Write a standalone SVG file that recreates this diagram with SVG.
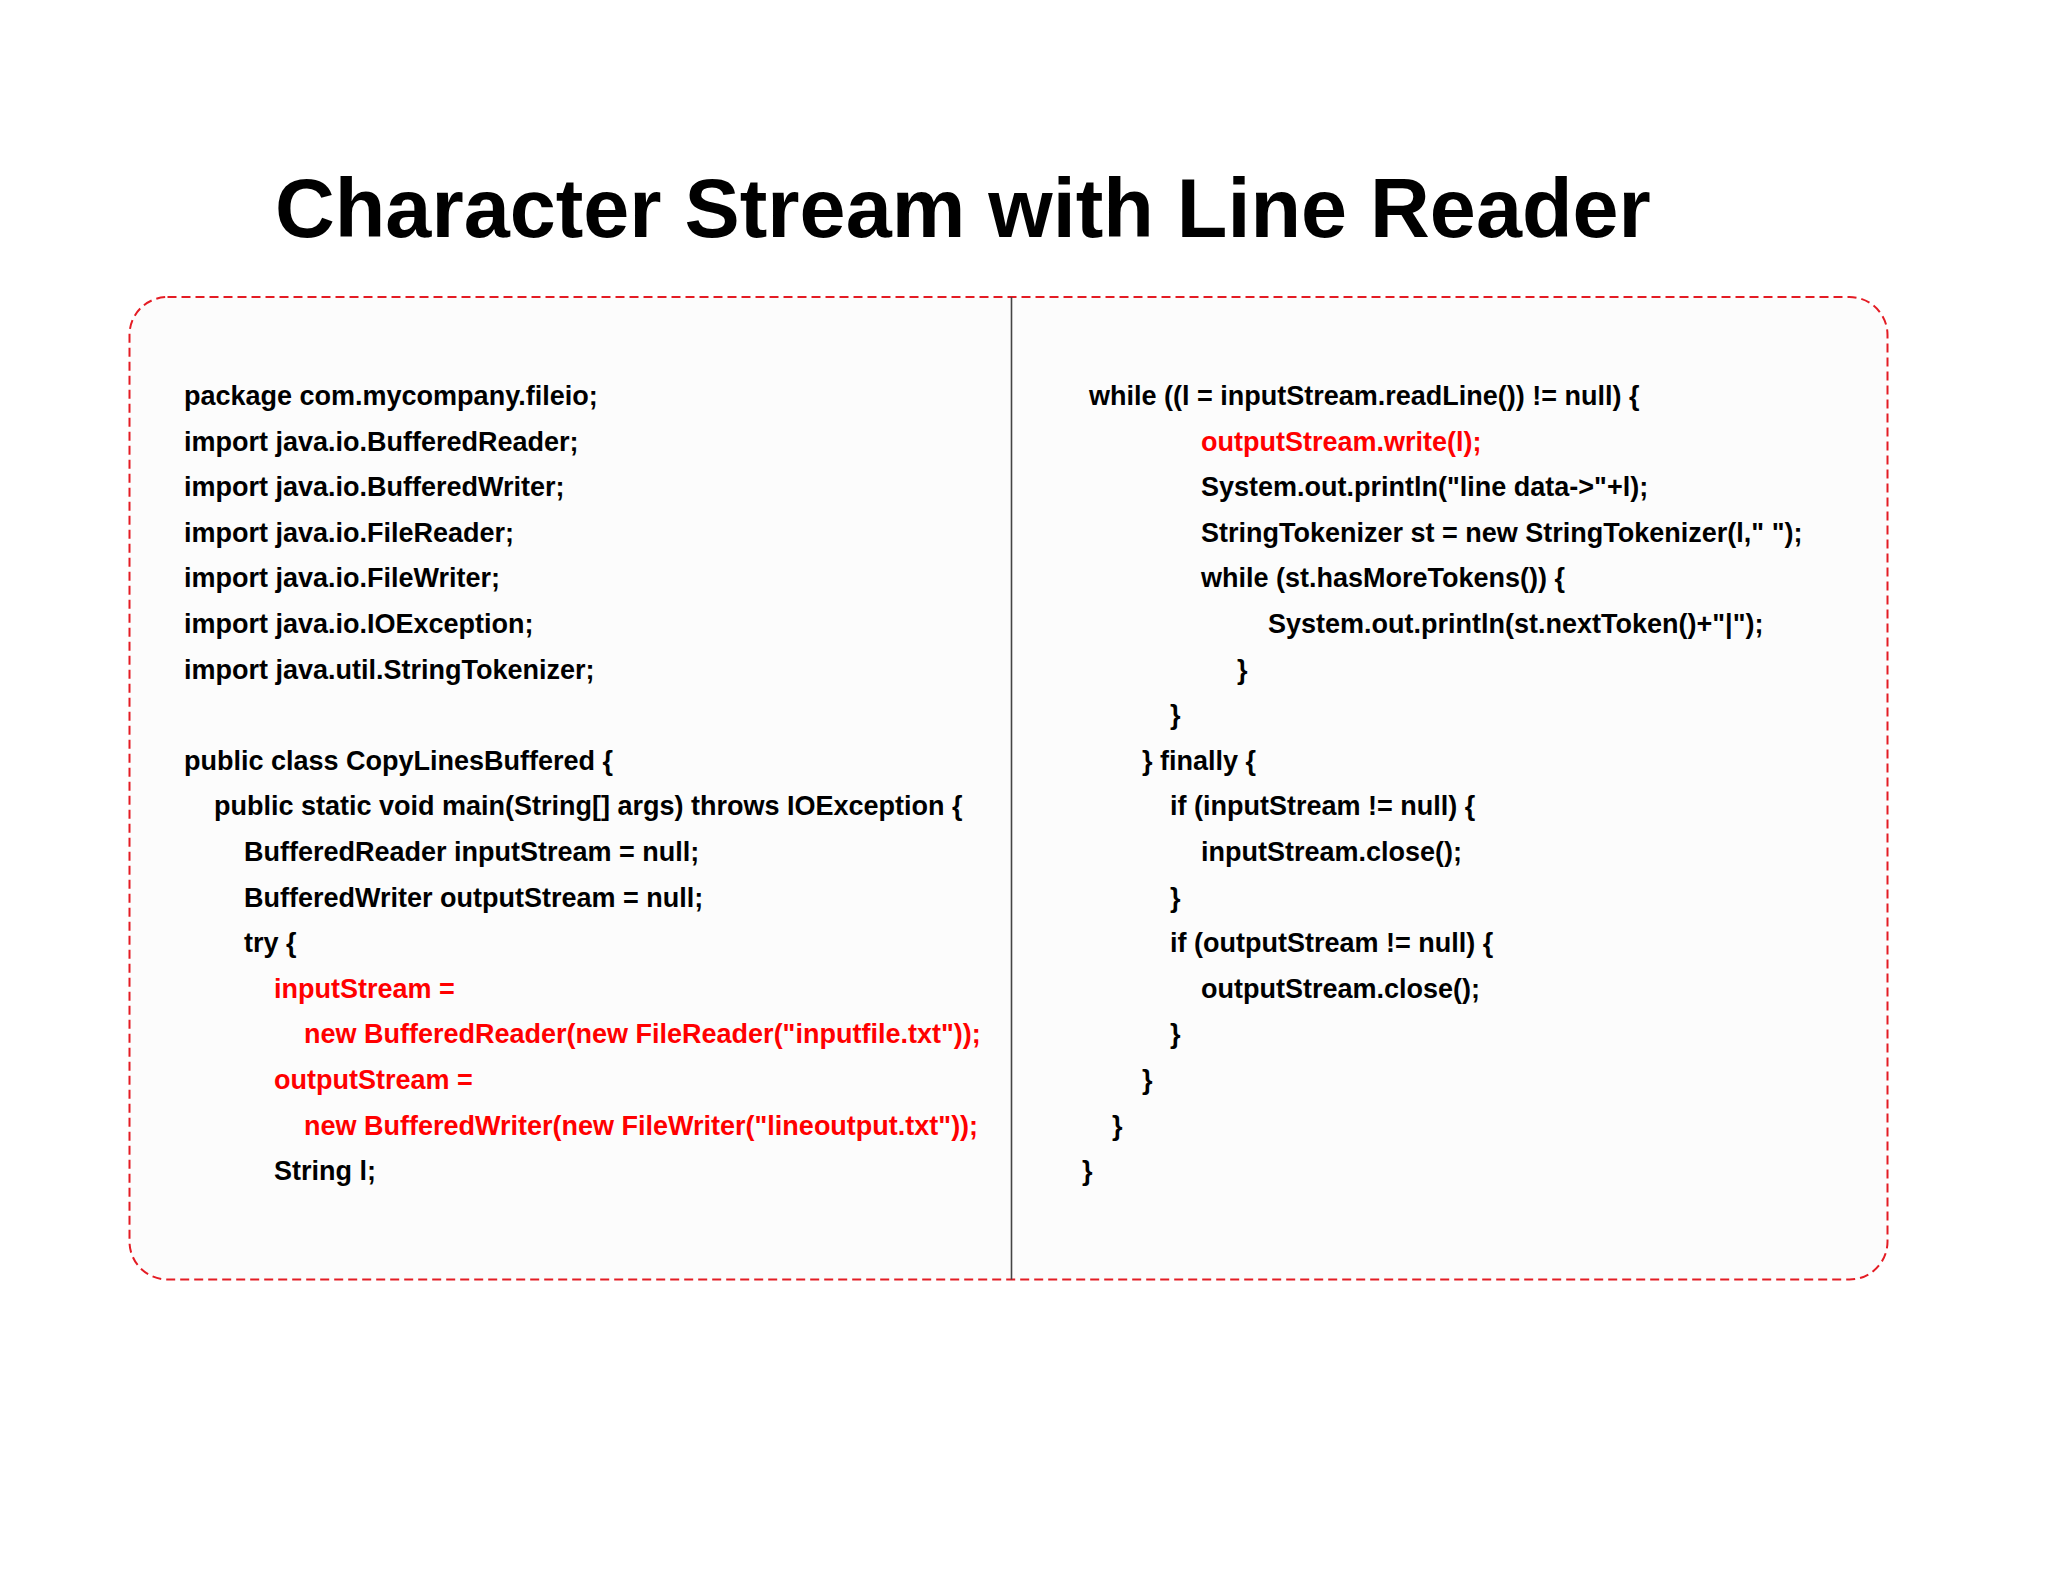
<svg xmlns="http://www.w3.org/2000/svg" width="2048" height="1582" viewBox="0 0 2048 1582">
<style>
.t{font-family:"Liberation Sans",Arial,sans-serif;font-weight:bold;font-size:27px;fill:#000}
.r{fill:#f00}
</style>
<rect x="0" y="0" width="2048" height="1582" fill="#fff"/>
<text id="title" x="275" y="237" font-family="Liberation Sans, Arial, sans-serif" font-weight="bold" font-size="82.8" fill="#000">Character Stream with Line Reader</text>
<g id="frame">
<rect x="129.5" y="297" width="1758" height="982.5" rx="38" ry="38" fill="#fcfcfc" stroke="#e41c24" stroke-width="2" stroke-dasharray="9,5"/>
<line x1="1011.5" y1="297" x2="1011.5" y2="1279.5" stroke="#444" stroke-width="1.6"/>
</g>
<g id="left-code" class="t">
<text class="t" x="184" y="405">package com.mycompany.fileio;</text>
<text class="t" x="184" y="450.6">import java.io.BufferedReader;</text>
<text class="t" x="184" y="496.2">import java.io.BufferedWriter;</text>
<text class="t" x="184" y="541.8">import java.io.FileReader;</text>
<text class="t" x="184" y="587.4">import java.io.FileWriter;</text>
<text class="t" x="184" y="633">import java.io.IOException;</text>
<text class="t" x="184" y="678.6">import java.util.StringTokenizer;</text>
<text class="t" x="184" y="769.8">public class CopyLinesBuffered {</text>
<text class="t" x="214" y="815.4">public static void main(String[] args) throws IOException {</text>
<text class="t" x="244" y="861">BufferedReader inputStream = null;</text>
<text class="t" x="244" y="906.6">BufferedWriter outputStream = null;</text>
<text class="t" x="244" y="952.2">try {</text>
<text class="t r" x="274" y="997.8">inputStream =</text>
<text class="t r" x="304" y="1043.4">new BufferedReader(new FileReader("inputfile.txt"));</text>
<text class="t r" x="274" y="1089">outputStream =</text>
<text class="t r" x="304" y="1134.6">new BufferedWriter(new FileWriter("lineoutput.txt"));</text>
<text class="t" x="274" y="1180.2">String l;</text>
</g>
<g id="right-code" class="t">
<text class="t" x="1089" y="405">while ((l = inputStream.readLine()) != null) {</text>
<text class="t r" x="1201" y="450.6">outputStream.write(l);</text>
<text class="t" x="1201" y="496.2">System.out.println("line data-&gt;"+l);</text>
<text class="t" x="1201" y="541.8">StringTokenizer st = new StringTokenizer(l," ");</text>
<text class="t" x="1201" y="587.4">while (st.hasMoreTokens()) {</text>
<text class="t" x="1268" y="633">System.out.println(st.nextToken()+"|");</text>
<text class="t" x="1237" y="678.6">}</text>
<text class="t" x="1170" y="724.2">}</text>
<text class="t" x="1142" y="769.8">} finally {</text>
<text class="t" x="1170" y="815.4">if (inputStream != null) {</text>
<text class="t" x="1201" y="861">inputStream.close();</text>
<text class="t" x="1170" y="906.6">}</text>
<text class="t" x="1170" y="952.2">if (outputStream != null) {</text>
<text class="t" x="1201" y="997.8">outputStream.close();</text>
<text class="t" x="1170" y="1043.4">}</text>
<text class="t" x="1142" y="1089">}</text>
<text class="t" x="1112" y="1134.6">}</text>
<text class="t" x="1082" y="1180.2">}</text>
</g>
</svg>
